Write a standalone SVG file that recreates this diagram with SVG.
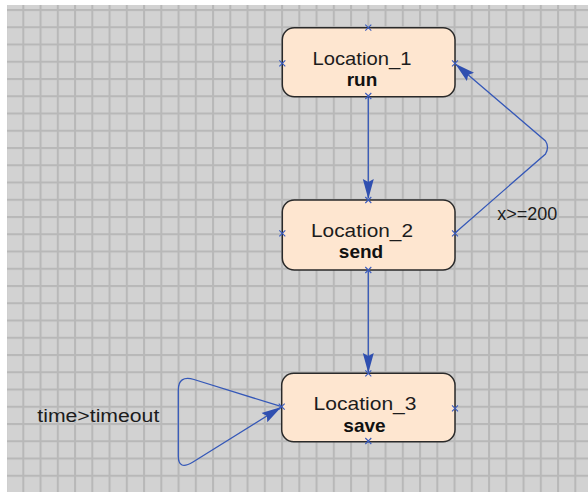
<svg xmlns="http://www.w3.org/2000/svg" width="588" height="492" viewBox="0 0 588 492">
  <defs>
    <pattern id="grid" x="22.3" y="9" width="17.25" height="17.25" patternUnits="userSpaceOnUse">
      <rect x="0" y="0" width="17.25" height="17.25" fill="#d2d2d2"/>
      <rect x="0" y="0" width="2" height="17.25" fill="#b8b8b8"/>
      <rect x="0" y="0" width="17.25" height="2" fill="#b8b8b8"/>
    </pattern>
    <marker id="arr" viewBox="0 0 20 12" refX="19" refY="6" markerWidth="20" markerHeight="12" markerUnits="userSpaceOnUse" orient="auto">
      <path d="M0,0.5 L20,6 L0,11.5 L3,6 Z" fill="#2f4fb0"/>
    </marker>
    <path id="pin" d="M-3,-3 L3,3 M-3,3 L3,-3" />
  </defs>
  <style>
    .box { fill: #fee6d0; stroke: #2a2a2a; stroke-width: 1.5; }
    .name { font-family: "Liberation Sans", Arial, sans-serif; font-size: 19px; fill: #1c1c1c; text-anchor: middle; }
    .act { font-family: "Liberation Sans", Arial, sans-serif; font-size: 19px; font-weight: bold; fill: #111; text-anchor: middle; }
    .lbl { font-family: "Liberation Sans", Arial, sans-serif; font-size: 18px; fill: #1c1c1c; }
    .edge { fill: none; stroke: #3558b8; stroke-width: 1.3; }
    .pin { stroke: #3a5cc0; stroke-width: 1.1; fill: none; }
  </style>

  <rect x="0" y="0" width="588" height="492" fill="#ffffff"/>
  <rect x="7" y="5" width="581" height="487" fill="url(#grid)"/>

  <g id="connectors">
    <line class="edge" x1="368.3" y1="96" x2="368.3" y2="198" marker-end="url(#arr)"/>
    <line class="edge" x1="368.3" y1="270" x2="368.3" y2="372" marker-end="url(#arr)"/>
    <path class="edge" d="M455,233 L545.5,154 Q549.5,147 545.5,141 L456,64.5" marker-end="url(#arr)"/>
    <path class="edge" d="M281.7,406.7 L194,379.5 Q178.3,375 178.3,390 L178.3,456 Q178.3,471 193,462 L280.5,407.5" marker-end="url(#arr)"/>
    <text class="lbl" x="497.3" y="220">x&gt;=200</text>
    <text class="lbl" x="37.3" y="421.7" textLength="122" lengthAdjust="spacingAndGlyphs">time&gt;timeout</text>
  </g>

  <g id="Location_1">
    <rect class="box" x="282.3" y="27.7" width="172.7" height="69" rx="12" ry="12"/>
    <text class="name" x="362" y="64.5" textLength="99" lengthAdjust="spacingAndGlyphs">Location_1</text>
    <text class="act" x="362" y="86">run</text>
    <use href="#pin" class="pin" x="368.3" y="27.7"/>
    <use href="#pin" class="pin" x="282.3" y="63.3"/>
    <use href="#pin" class="pin" x="455" y="63.3"/>
    <use href="#pin" class="pin" x="368.3" y="96"/>
  </g>

  <g id="Location_2">
    <rect class="box" x="282.3" y="200" width="172.7" height="70" rx="12" ry="12"/>
    <text class="name" x="362" y="236.8" textLength="102" lengthAdjust="spacingAndGlyphs">Location_2</text>
    <text class="act" x="361" y="258.3">send</text>
    <use href="#pin" class="pin" x="368.3" y="200"/>
    <use href="#pin" class="pin" x="282.3" y="233.3"/>
    <use href="#pin" class="pin" x="455" y="233.3"/>
    <use href="#pin" class="pin" x="368.3" y="270"/>
  </g>

  <g id="Location_3">
    <rect class="box" x="281.7" y="373.3" width="173.3" height="68.4" rx="12" ry="12"/>
    <text class="name" x="365" y="410" textLength="103" lengthAdjust="spacingAndGlyphs">Location_3</text>
    <text class="act" x="364.5" y="431.6">save</text>
    <use href="#pin" class="pin" x="368.3" y="373.3"/>
    <use href="#pin" class="pin" x="281.7" y="406.7"/>
    <use href="#pin" class="pin" x="455" y="408.3"/>
    <use href="#pin" class="pin" x="368.3" y="441"/>
  </g>
</svg>
